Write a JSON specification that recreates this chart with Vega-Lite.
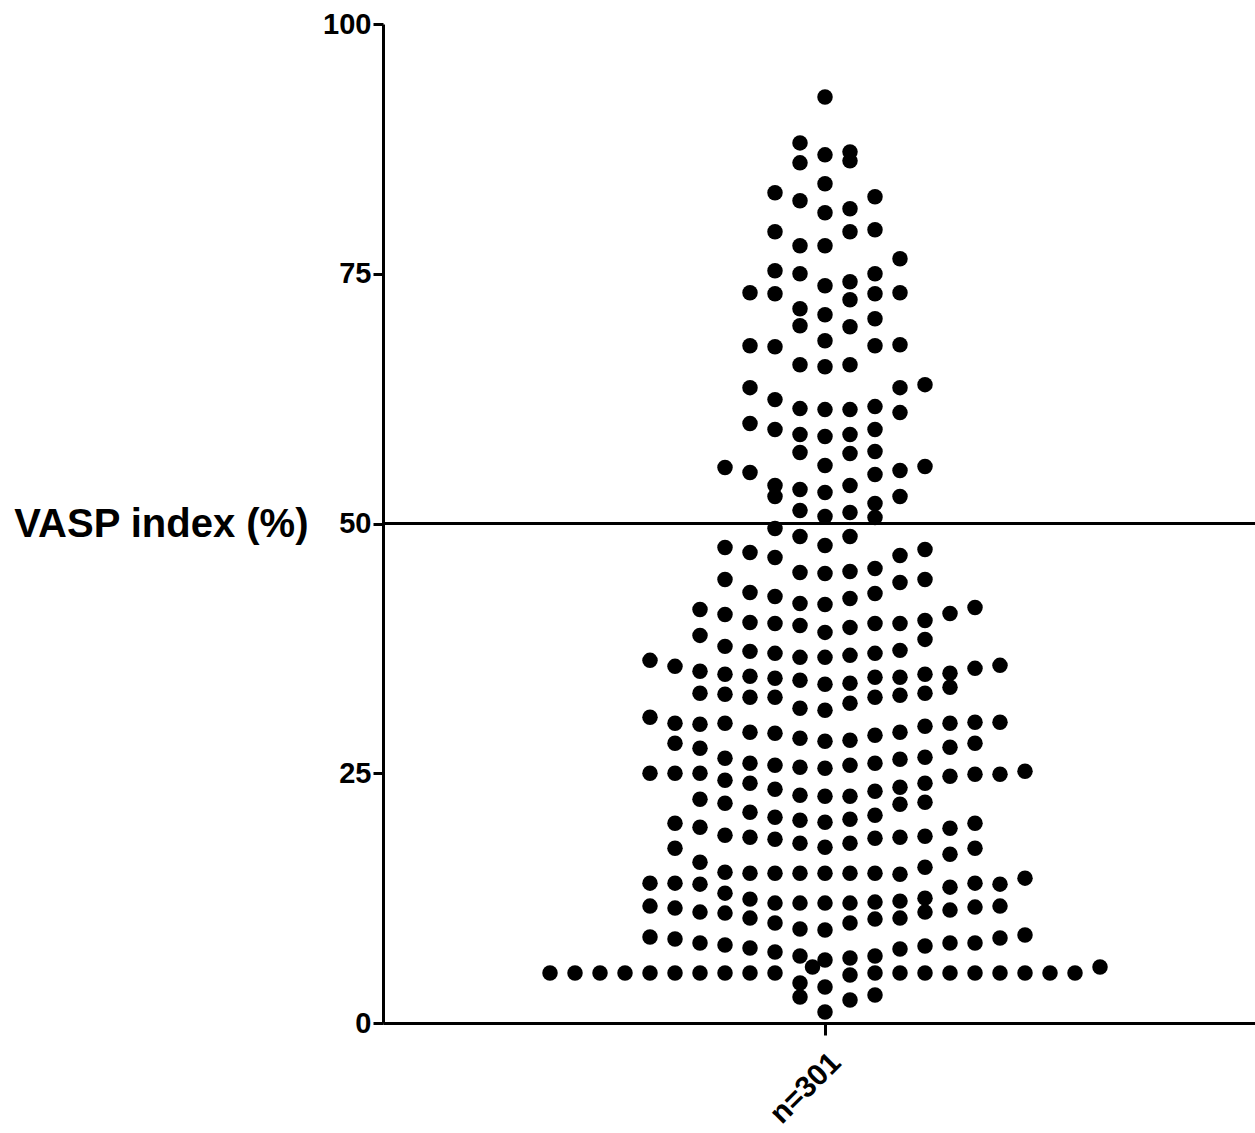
{
"$schema": "https://vega.github.io/schema/vega-lite/v6.json",
"width": 872,
"height": 999,
"autosize": {"type": "none"},
"padding": {"left": 383, "top": 24, "right": 0, "bottom": 110},
"background": "white",
"config": {"view": {"stroke": null}, "font": "Liberation Sans"},
"layer": [
{
"data": {"values": [
{"col":0,"vasp":92.7},{"col":-1,"vasp":88.1},{"col":-1,"vasp":86.1},{"col":0,"vasp":86.9},{"col":1,"vasp":87.2},{"col":1,"vasp":86.3},{"col":0,"vasp":84.0},{"col":-2,"vasp":83.1},{"col":-1,"vasp":82.3},{"col":0,"vasp":81.1},{"col":1,"vasp":81.5},{"col":2,"vasp":82.7},{"col":-2,"vasp":79.2},{"col":-1,"vasp":77.8},{"col":0,"vasp":77.8},{"col":1,"vasp":79.2},{"col":2,"vasp":79.4},{"col":3,"vasp":76.5},{"col":-2,"vasp":75.3},{"col":-1,"vasp":75.0},{"col":0,"vasp":73.8},{"col":1,"vasp":74.2},{"col":2,"vasp":75.0},{"col":-3,"vasp":73.1},{"col":-2,"vasp":73.0},{"col":1,"vasp":72.4},{"col":2,"vasp":73.0},{"col":3,"vasp":73.1},{"col":-1,"vasp":71.5},{"col":-1,"vasp":69.8},{"col":0,"vasp":70.9},{"col":1,"vasp":69.7},{"col":2,"vasp":70.5},{"col":-3,"vasp":67.8},{"col":-2,"vasp":67.7},{"col":0,"vasp":68.3},{"col":2,"vasp":67.8},{"col":3,"vasp":67.9},{"col":-1,"vasp":65.9},{"col":0,"vasp":65.7},{"col":1,"vasp":65.9},{"col":-3,"vasp":63.6},{"col":4,"vasp":63.9},{"col":3,"vasp":63.6},{"col":-2,"vasp":62.4},{"col":-1,"vasp":61.5},{"col":0,"vasp":61.4},{"col":1,"vasp":61.4},{"col":2,"vasp":61.7},{"col":3,"vasp":61.1},{"col":-3,"vasp":60.0},{"col":-2,"vasp":59.4},{"col":-1,"vasp":58.9},{"col":-1,"vasp":57.1},{"col":0,"vasp":58.7},{"col":1,"vasp":58.9},{"col":1,"vasp":57.0},{"col":2,"vasp":59.4},{"col":2,"vasp":57.2},{"col":-4,"vasp":55.6},{"col":-3,"vasp":55.1},{"col":0,"vasp":55.8},{"col":2,"vasp":54.9},{"col":3,"vasp":55.3},{"col":4,"vasp":55.7},{"col":-2,"vasp":53.8},{"col":-2,"vasp":52.7},{"col":-1,"vasp":53.4},{"col":0,"vasp":53.1},{"col":1,"vasp":53.8},{"col":3,"vasp":52.7},{"col":-1,"vasp":51.3},{"col":0,"vasp":50.7},{"col":1,"vasp":51.1},{"col":2,"vasp":52.0},{"col":2,"vasp":50.6},{"col":-2,"vasp":49.5},{"col":-1,"vasp":48.7},{"col":0,"vasp":47.8},{"col":1,"vasp":48.7},{"col":-4,"vasp":47.6},{"col":-3,"vasp":47.1},{"col":-2,"vasp":46.6},{"col":3,"vasp":46.8},{"col":4,"vasp":47.4},
{"col":-1,"vasp":45.1},{"col":0,"vasp":45.0},{"col":1,"vasp":45.2},{"col":2,"vasp":45.5},{"col":-4,"vasp":44.4},{"col":3,"vasp":44.1},{"col":4,"vasp":44.4},{"col":-3,"vasp":43.1},{"col":-2,"vasp":42.7},{"col":-1,"vasp":42.0},{"col":0,"vasp":41.9},{"col":1,"vasp":42.5},{"col":2,"vasp":43.0},{"col":-5,"vasp":41.4},{"col":-4,"vasp":40.9},{"col":-3,"vasp":40.1},{"col":-2,"vasp":40.0},{"col":-1,"vasp":39.8},{"col":0,"vasp":39.1},{"col":1,"vasp":39.6},{"col":2,"vasp":40.0},{"col":3,"vasp":40.0},{"col":4,"vasp":40.3},{"col":4,"vasp":38.4},{"col":5,"vasp":41.0},{"col":6,"vasp":41.6},{"col":-5,"vasp":38.8},{"col":-4,"vasp":37.7},{"col":-3,"vasp":37.2},{"col":-2,"vasp":37.0},{"col":-1,"vasp":36.6},{"col":0,"vasp":36.6},{"col":1,"vasp":36.8},{"col":2,"vasp":37.0},{"col":3,"vasp":37.3},{"col":-7,"vasp":36.3},{"col":-6,"vasp":35.7},{"col":-5,"vasp":35.2},{"col":-4,"vasp":34.9},{"col":-3,"vasp":34.7},{"col":-2,"vasp":34.5},{"col":-1,"vasp":34.3},{"col":0,"vasp":33.9},{"col":1,"vasp":34.0},{"col":2,"vasp":34.6},{"col":3,"vasp":34.6},{"col":4,"vasp":34.9},{"col":5,"vasp":35.0},{"col":5,"vasp":33.6},{"col":6,"vasp":35.5},{"col":7,"vasp":35.8},{"col":-5,"vasp":33.0},{"col":-4,"vasp":32.9},{"col":-3,"vasp":32.6},{"col":-2,"vasp":32.6},{"col":-1,"vasp":31.5},{"col":0,"vasp":31.3},{"col":1,"vasp":32.0},{"col":2,"vasp":32.6},{"col":3,"vasp":32.8},{"col":4,"vasp":33.0},
{"col":-7,"vasp":30.6},{"col":-6,"vasp":30.0},{"col":-5,"vasp":29.9},{"col":-4,"vasp":30.0},{"col":-3,"vasp":29.1},{"col":-2,"vasp":29.0},{"col":-1,"vasp":28.5},{"col":0,"vasp":28.2},{"col":1,"vasp":28.3},{"col":2,"vasp":28.8},{"col":3,"vasp":29.1},{"col":4,"vasp":29.7},{"col":5,"vasp":30.0},{"col":6,"vasp":30.1},{"col":7,"vasp":30.1},{"col":-6,"vasp":28.0},{"col":-5,"vasp":27.5},{"col":5,"vasp":27.6},{"col":6,"vasp":28.0},{"col":-4,"vasp":26.5},{"col":-3,"vasp":26.0},{"col":-2,"vasp":25.8},{"col":-1,"vasp":25.6},{"col":0,"vasp":25.5},{"col":1,"vasp":25.8},{"col":2,"vasp":26.0},{"col":3,"vasp":26.4},{"col":4,"vasp":26.6},{"col":-7,"vasp":25.0},{"col":-6,"vasp":25.0},{"col":-5,"vasp":25.0},{"col":-4,"vasp":24.3},{"col":-3,"vasp":24.0},{"col":-2,"vasp":23.4},{"col":-1,"vasp":22.8},{"col":0,"vasp":22.7},{"col":1,"vasp":22.7},{"col":2,"vasp":23.2},{"col":3,"vasp":23.6},{"col":4,"vasp":24.0},{"col":5,"vasp":24.7},{"col":6,"vasp":24.9},{"col":7,"vasp":24.9},{"col":8,"vasp":25.2},{"col":-5,"vasp":22.4},{"col":-4,"vasp":22.0},{"col":3,"vasp":21.9},{"col":4,"vasp":22.1},{"col":-3,"vasp":21.1},{"col":-2,"vasp":20.6},{"col":-1,"vasp":20.3},{"col":0,"vasp":20.1},{"col":1,"vasp":20.4},{"col":2,"vasp":20.8},{"col":-6,"vasp":20.0},{"col":-5,"vasp":19.6},{"col":5,"vasp":19.5},{"col":6,"vasp":20.0},
{"col":-4,"vasp":18.8},{"col":-3,"vasp":18.6},{"col":-2,"vasp":18.4},{"col":-1,"vasp":18.0},{"col":0,"vasp":17.6},{"col":1,"vasp":18.0},{"col":2,"vasp":18.5},{"col":3,"vasp":18.6},{"col":4,"vasp":18.7},{"col":-6,"vasp":17.5},{"col":-5,"vasp":16.1},{"col":5,"vasp":16.9},{"col":6,"vasp":17.5},{"col":-4,"vasp":15.1},{"col":-3,"vasp":15.0},{"col":-2,"vasp":15.0},{"col":-1,"vasp":15.0},{"col":0,"vasp":15.0},{"col":1,"vasp":15.0},{"col":2,"vasp":15.0},{"col":3,"vasp":14.9},{"col":4,"vasp":15.6},{"col":-7,"vasp":14.0},{"col":-6,"vasp":14.0},{"col":-5,"vasp":13.9},{"col":5,"vasp":13.6},{"col":6,"vasp":14.0},{"col":7,"vasp":13.9},{"col":8,"vasp":14.5},{"col":-4,"vasp":13.0},{"col":-4,"vasp":11.0},{"col":-3,"vasp":12.4},{"col":-3,"vasp":10.5},{"col":-2,"vasp":12.0},{"col":-2,"vasp":10.0},{"col":-1,"vasp":12.0},{"col":-1,"vasp":9.4},{"col":0,"vasp":12.0},{"col":0,"vasp":9.3},{"col":1,"vasp":12.0},{"col":1,"vasp":10.0},{"col":2,"vasp":12.1},{"col":2,"vasp":10.4},{"col":3,"vasp":12.2},{"col":3,"vasp":10.5},{"col":4,"vasp":12.5},{"col":4,"vasp":11.1},{"col":-7,"vasp":11.7},{"col":-6,"vasp":11.5},{"col":-5,"vasp":11.1},{"col":5,"vasp":11.3},{"col":6,"vasp":11.6},{"col":7,"vasp":11.7},{"col":-7,"vasp":8.6},{"col":-6,"vasp":8.4},{"col":-5,"vasp":8.0},{"col":-4,"vasp":7.8},{"col":-3,"vasp":7.5},{"col":-2,"vasp":7.1},{"col":-1,"vasp":6.7},{"col":0,"vasp":6.3},{"col":1,"vasp":6.5},{"col":2,"vasp":6.7},{"col":3,"vasp":7.4},{"col":4,"vasp":7.7},{"col":5,"vasp":8.0},{"col":6,"vasp":8.0},{"col":7,"vasp":8.5},{"col":8,"vasp":8.8},
{"col":-11,"vasp":5.0},{"col":-10,"vasp":5.0},{"col":-9,"vasp":5.0},{"col":-8,"vasp":5.0},{"col":-7,"vasp":5.0},{"col":-6,"vasp":5.0},{"col":-5,"vasp":5.0},{"col":-4,"vasp":5.0},{"col":-3,"vasp":5.0},{"col":-2,"vasp":5.0},{"col":1,"vasp":4.8},{"col":2,"vasp":5.0},{"col":3,"vasp":5.0},{"col":4,"vasp":5.0},{"col":5,"vasp":5.0},{"col":6,"vasp":5.0},{"col":7,"vasp":5.0},{"col":8,"vasp":5.0},{"col":9,"vasp":5.0},{"col":10,"vasp":5.0},{"col":11,"vasp":5.6},{"col":-0.5,"vasp":5.6},{"col":-1,"vasp":4.0},{"col":-1,"vasp":2.6},{"col":0,"vasp":3.6},{"col":0,"vasp":1.1},{"col":1,"vasp":2.3},{"col":2,"vasp":2.8}
]},
"mark": {"type": "circle", "size": 240, "color": "black", "opacity": 1},
"encoding": {
"x": {"field": "col", "type": "quantitative",
"scale": {"domain": [-17.68, 17.2], "nice": false, "zero": false},
"axis": {"values": [0], "labelExpr": "'n=301'", "labelAngle": -45, "labelFontSize": 30, "labelFontWeight": "bold", "labelColor": "black", "tickSize": 12, "tickWidth": 3, "tickColor": "black", "domainColor": "black", "domainWidth": 3, "grid": false, "title": null, "labelPadding": 12}},
"y": {"field": "vasp", "type": "quantitative",
"scale": {"domain": [0, 100], "nice": false},
"axis": {"values": [0, 25, 50, 75, 100], "title": "VASP index (%)", "titleAngle": 0, "titleFontSize": 40, "titleFontWeight": "bold", "titleColor": "black", "titleAlign": "right", "titleBaseline": "middle", "titleX": -75, "titleY": 500, "labelFontSize": 29, "labelFontWeight": "bold", "labelColor": "black", "tickSize": 10, "tickWidth": 3, "tickColor": "black", "domainColor": "black", "domainWidth": 3, "grid": false, "labelPadding": 2}}
}
},
{
"data": {"values": [{"ref": 50}]},
"mark": {"type": "rule", "color": "black", "strokeWidth": 3},
"encoding": {"y": {"field": "ref", "type": "quantitative"}}
}
]
}
